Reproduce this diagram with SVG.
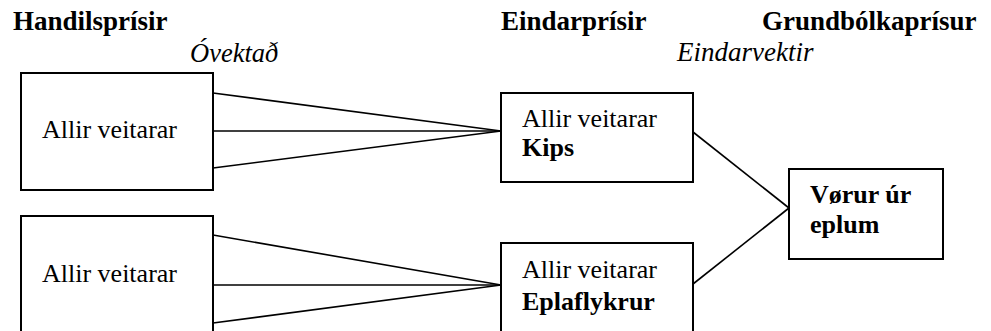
<svg xmlns="http://www.w3.org/2000/svg" width="991" height="331" viewBox="0 0 991 331">
<rect x="0" y="0" width="991" height="331" fill="#fff"/>
<g id="headers" fill="#000">
<text font-family="Liberation Serif" font-size="27" font-weight="bold" x="13" y="30">Handilsprísir</text>
<text font-family="Liberation Serif" font-size="26.5" font-style="italic" x="190" y="62">Óvektað</text>
<text font-family="Liberation Serif" font-size="27" font-weight="bold" x="501" y="30">Eindarprísir</text>
<text font-family="Liberation Serif" font-size="27" font-weight="bold" x="762" y="30">Grundbólkaprísur</text>
<text font-family="Liberation Serif" font-size="27" font-style="italic" x="677" y="61">Eindarvektir</text>
</g>
<g id="connectors" stroke="#000" stroke-width="1.6">
<line x1="213" y1="93" x2="501" y2="131"/>
<line x1="213" y1="131" x2="501" y2="131"/>
<line x1="213" y1="168" x2="501" y2="131"/>
<line x1="213" y1="235" x2="501" y2="285"/>
<line x1="213" y1="285" x2="501" y2="285"/>
<line x1="213" y1="323" x2="501" y2="285"/>
<line x1="693" y1="132" x2="789" y2="208"/>
<line x1="693" y1="284" x2="789" y2="208"/>
</g>
<g id="n1"><rect fill="#fff" stroke="#000" stroke-width="2" x="21" y="73" width="192" height="117"/><text font-family="Liberation Serif" font-size="26" x="42" y="138">Allir veitarar</text></g>
<g id="n2"><rect fill="#fff" stroke="#000" stroke-width="2" x="21" y="216" width="192" height="130"/><text font-family="Liberation Serif" font-size="26" x="42" y="282">Allir veitarar</text></g>
<g id="n3"><rect fill="#fff" stroke="#000" stroke-width="2" x="501" y="93" width="192" height="89"/><text font-family="Liberation Serif" font-size="26" x="522" y="127">Allir veitarar</text><text font-family="Liberation Serif" font-size="26" font-weight="bold" x="522" y="156">Kips</text></g>
<g id="n4"><rect fill="#fff" stroke="#000" stroke-width="2" x="501" y="243" width="192" height="103"/><text font-family="Liberation Serif" font-size="26" x="522" y="278">Allir veitarar</text><text font-family="Liberation Serif" font-size="26" font-weight="bold" x="522" y="310">Eplaflykrur</text></g>
<g id="n5"><rect fill="#fff" stroke="#000" stroke-width="2" x="789" y="169" width="154" height="90"/><text font-family="Liberation Serif" font-size="26" font-weight="bold" x="810" y="203">Vørur úr</text><text font-family="Liberation Serif" font-size="26" font-weight="bold" x="810" y="233">eplum</text></g>
</svg>
